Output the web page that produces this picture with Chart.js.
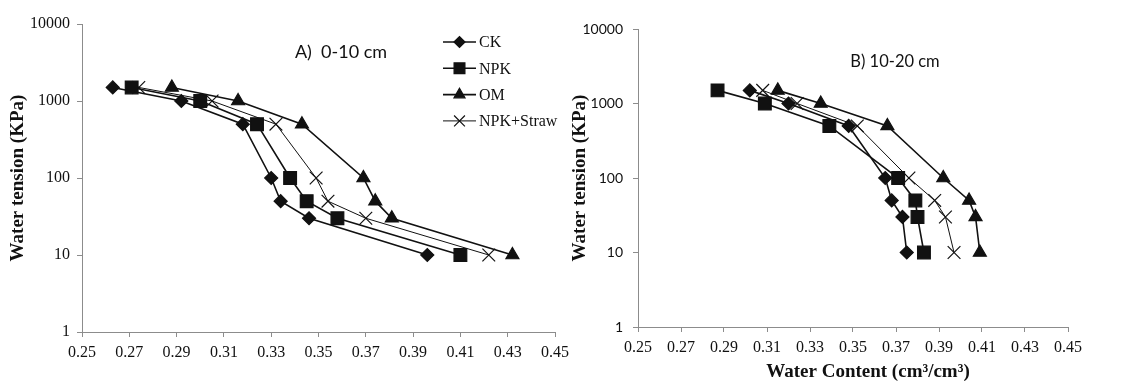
<!DOCTYPE html>
<html>
<head>
<meta charset="utf-8">
<title>Water retention curves</title>
<script src="https://cdn.jsdelivr.net/npm/chart.js@4.4.1/dist/chart.umd.min.js"></script>
<style>
  body { margin: 0; background: #fff; }
  #page { position: relative; width: 1135px; height: 381px; overflow: hidden; }
  canvas { position: absolute; top: 0; }
  #chartA { left: 0; }
  #chartB { left: 560px; }
</style>
</head>
<body>
<div id="page">
  <canvas id="chartA" width="580" height="381"></canvas>
  <canvas id="chartB" width="575" height="381"></canvas>
</div>
<script>
// water tension levels (KPa), same for every treatment
const tension = [1500, 1000, 500, 100, 50, 30, 10];
const seriesNames = ['CK', 'NPK', 'OM', 'NPK+Straw'];

// water content (cm3/cm3) at each tension, 0-10 cm layer
const ckTop    = [0.263, 0.292, 0.318, 0.330, 0.334, 0.346, 0.396];
const npkTop   = [0.271, 0.300, 0.324, 0.338, 0.345, 0.358, 0.410];
const omTop    = [0.288, 0.316, 0.343, 0.369, 0.374, 0.381, 0.432];
const strawTop = [0.274, 0.305, 0.332, 0.349, 0.354, 0.370, 0.422];

// 10-20 cm layer
const ckSub    = [0.302, 0.320, 0.348, 0.365, 0.368, 0.373, 0.375];
const npkSub   = [0.287, 0.309, 0.339, 0.371, 0.379, 0.380, 0.383];
const omSub    = [0.315, 0.335, 0.366, 0.392, 0.404, 0.407, 0.409];
const strawSub = [0.308, 0.324, 0.352, 0.376, 0.388, 0.393, 0.397];

const xTicks = [0.25, 0.27, 0.29, 0.31, 0.33, 0.35, 0.37, 0.39, 0.41, 0.43, 0.45];
const yTicks = [1, 10, 100, 1000, 10000];

const markers = [
  { pointStyle: 'rectRot',  radius: 6.5, lineWidth: 1.6 },
  { pointStyle: 'rect',     radius: 9,   lineWidth: 1.6 },
  { pointStyle: 'triangle', radius: 7.5, lineWidth: 1.6 },
  { pointStyle: 'crossRot', radius: 9,   lineWidth: 1 }
];

const AXIS_GREY = '#8c8c8c';
const INK = '#111';
const SERIF = "'Liberation Serif', 'Times New Roman', serif";

function makeDatasets(groups) {
  return groups.map((vals, i) => ({
    label: seriesNames[i],
    data: vals.map((x, k) => ({ x: x, y: tension[k] })),
    showLine: true,
    borderColor: INK,
    backgroundColor: INK,
    borderWidth: markers[i].lineWidth,
    pointStyle: markers[i].pointStyle,
    pointRadius: markers[i].radius,
    pointBorderWidth: 1.2,
    pointBorderColor: INK,
    pointBackgroundColor: INK,
    clip: false
  }));
}

// free text inside the plot (panel caption, x title)
const textPlugin = {
  id: 'freeText',
  afterDraw(chart, args, opts) {
    const ctx = chart.ctx;
    ctx.save();
    (opts.items || []).forEach(t => {
      ctx.font = t.font;
      ctx.fillStyle = INK;
      ctx.textAlign = 'center';
      ctx.textBaseline = 'middle';
      ctx.fillText(t.text, t.x, t.y);
    });
    ctx.restore();
  }
};

// vertical legend box drawn in the upper right of panel A
const legendPlugin = {
  id: 'boxLegend',
  afterDraw(chart, args, opts) {
    if (!opts.show) return;
    const ctx = chart.ctx;
    ctx.save();
    chart.data.datasets.forEach((ds, i) => {
      const y = opts.y + i * opts.step;
      ctx.strokeStyle = INK;
      ctx.lineWidth = ds.borderWidth;
      ctx.beginPath();
      ctx.moveTo(opts.x, y);
      ctx.lineTo(opts.x + opts.len, y);
      ctx.stroke();
      ctx.fillStyle = INK;
      ctx.lineWidth = 1.2;
      Chart.helpers.drawPoint(ctx, {
        pointStyle: ds.pointStyle,
        radius: ds.pointRadius * 0.85,
        rotation: 0,
        borderWidth: 1.2
      }, opts.x + opts.len / 2, y);
      ctx.font = '16px ' + SERIF;
      ctx.textAlign = 'left';
      ctx.textBaseline = 'middle';
      ctx.fillText(ds.label, opts.x + opts.len + 3, y + 1);
    });
    ctx.restore();
  }
};

function makeChart(id, groups, cfg) {
  return new Chart(document.getElementById(id), {
    type: 'scatter',
    data: { datasets: makeDatasets(groups) },
    plugins: [textPlugin, legendPlugin],
    options: {
      responsive: false,
      animation: false,
      layout: { padding: { top: cfg.top, right: cfg.right, left: 0, bottom: 0 } },
      scales: {
        x: {
          type: 'linear',
          min: 0.25,
          max: 0.45,
          afterBuildTicks: s => { s.ticks = xTicks.map(v => ({ value: v })); },
          afterFit: s => { s.height = cfg.xHeight; },
          ticks: {
            callback: v => v.toFixed(2),
            color: INK,
            font: { family: SERIF, size: 16 },
            padding: 6,
            maxRotation: 0,
            autoSkip: false
          },
          grid: { drawOnChartArea: false, drawTicks: true, tickLength: 5, color: AXIS_GREY },
          border: { display: true, color: AXIS_GREY, width: 1 }
        },
        y: {
          type: 'logarithmic',
          min: 1,
          max: 10000,
          afterBuildTicks: s => { s.ticks = yTicks.map(v => ({ value: v })); },
          afterFit: s => { s.width = cfg.yWidth; },
          ticks: {
            callback: v => String(v),
            color: INK,
            font: cfg.yTickFont,
            padding: cfg.yTickPad,
            autoSkip: false
          },
          grid: { drawOnChartArea: false, drawTicks: true, tickLength: 5, color: AXIS_GREY },
          border: { display: true, color: AXIS_GREY, width: 1 },
          title: {
            display: true,
            text: 'Water tension (KPa)',
            color: INK,
            font: { family: SERIF, size: 19, weight: 'bold' },
            padding: { top: cfg.titlePad, bottom: 0 }
          }
        }
      },
      plugins: {
        legend: { display: false },
        tooltip: { enabled: false },
        freeText: { items: cfg.texts },
        boxLegend: cfg.legend
      }
    }
  });
}

makeChart('chartA', [ckTop, npkTop, omTop, strawTop], {
  top: 24, right: 25, xHeight: 49, yWidth: 82, titlePad: 6.6,
  yTickFont: { family: SERIF, size: 16 }, yTickPad: 7,
  texts: [{ text: 'A)  0-10 cm', x: 341, y: 52, font: '18px Lato, sans-serif' }],
  legend: { show: true, x: 443, y: 42, step: 26.3, len: 33 }
});

makeChart('chartB', [ckSub, npkSub, omSub, strawSub], {
  top: 29, right: 67, xHeight: 54, yWidth: 78, titlePad: 8.6,
  yTickFont: { family: 'Lato, sans-serif', size: 14 }, yTickPad: 10,
  texts: [
    { text: 'B) 10-20 cm', x: 335, y: 62, font: '16.5px Lato, sans-serif' },
    { text: 'Water Content (cm³/cm³)', x: 308, y: 372, font: 'bold 19px ' + SERIF }
  ],
  legend: { show: false }
});
</script>
</body>
</html>
